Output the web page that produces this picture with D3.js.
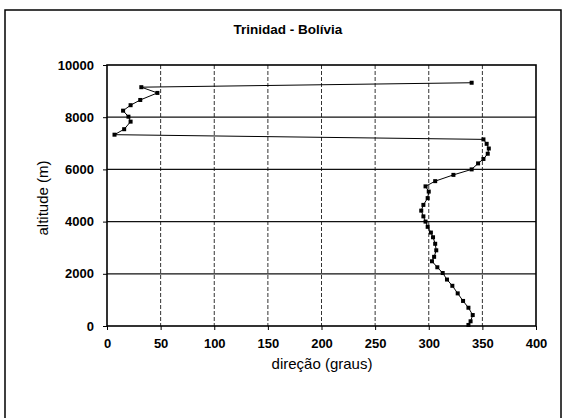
<!DOCTYPE html>
<html><head><meta charset="utf-8">
<script src="https://cdn.jsdelivr.net/npm/d3@7"></script>
<style>body{margin:0;background:#fff}svg{display:block}text{font-family:"Liberation Sans",Arial,sans-serif}</style>
</head><body>
<script>
const title = "Trinidad - Bolívia";
const xTitle = "direção (graus)";
const yTitle = "altitude (m)";
const xTicks = [0,50,100,150,200,250,300,350,400];
const yTicks = [0,2000,4000,6000,8000,10000];
const direction = [340,32,47,31,22,15,20,22,16,7,351,354,356,355,351,346,340,323,306,297,300,299,295,293,295,297,299,302,304,306,307,305,303,308,313,317,322,327,332,337,341,339,337];
const altitude = [9320,9150,8930,8660,8460,8250,8020,7830,7540,7330,7150,6980,6800,6600,6400,6230,6000,5790,5550,5350,5150,4900,4640,4420,4200,4000,3800,3580,3400,3150,2900,2650,2480,2250,2030,1780,1540,1250,960,700,420,180,40];

const W=566,H=418;
const svg=d3.select("body").append("svg").attr("width",W).attr("height",H);
svg.append("rect").attr("width",W).attr("height",H).attr("fill","#fff");
// outer chart frame
svg.append("rect").attr("x",5).attr("y",10).attr("width",556).attr("height",420)
  .attr("fill","none").attr("stroke","#000").attr("stroke-width",1.5);

const m={l:107,t:65,r:536,b:326};
const x=d3.scaleLinear().domain([0,400]).range([m.l,m.r]);
const y=d3.scaleLinear().domain([0,10000]).range([m.b,m.t]);

// gridlines
svg.append("g").selectAll("line").data(xTicks.slice(1,-1)).join("line")
  .attr("x1",d=>x(d)).attr("x2",d=>x(d)).attr("y1",m.t).attr("y2",m.b)
  .attr("stroke","#333").attr("stroke-width",1).attr("stroke-dasharray","4,2");
svg.append("g").selectAll("line").data(yTicks.slice(1,-1)).join("line")
  .attr("x1",m.l).attr("x2",m.r).attr("y1",d=>y(d)).attr("y2",d=>y(d))
  .attr("stroke","#111").attr("stroke-width",1.2);

// plot frame
svg.append("rect").attr("x",m.l).attr("y",m.t).attr("width",m.r-m.l).attr("height",m.b-m.t)
  .attr("fill","none").attr("stroke","#000").attr("stroke-width",1.6);

// axes
const xa=svg.append("g").attr("transform",`translate(0,${m.b})`)
  .call(d3.axisBottom(x).tickValues(xTicks).tickSize(4).tickPadding(9));
const ya=svg.append("g").attr("transform",`translate(${m.l},0)`)
  .call(d3.axisLeft(y).tickValues(yTicks).tickSize(4).tickPadding(9).tickFormat(d3.format("d")));
[xa,ya].forEach(a=>{
  a.select(".domain").remove();
  a.selectAll("line").attr("stroke","#000");
  a.selectAll("text").attr("fill","#000").style("font-size","13px").style("font-weight","bold")
   .style("font-family","'Liberation Sans',Arial,sans-serif");
});

// data
const pts=direction.map((d,i)=>[d,altitude[i]]);
svg.append("path").datum(pts)
  .attr("d",d3.line().x(d=>x(d[0])).y(d=>y(d[1])))
  .attr("fill","none").attr("stroke","#000").attr("stroke-width",1);
svg.append("g").selectAll("rect").data(pts).join("rect")
  .attr("x",d=>x(d[0])-2).attr("y",d=>y(d[1])-2).attr("width",4).attr("height",4).attr("fill","#000");

// titles
svg.append("text").attr("x",288).attr("y",34).attr("text-anchor","middle")
  .style("font-size","13.5px").style("font-weight","bold").text(title);
svg.append("text").attr("x",322).attr("y",369).attr("text-anchor","middle")
  .style("font-size","15px").text(xTitle);
svg.append("text").attr("transform","translate(48,198) rotate(-90)").attr("text-anchor","middle")
  .style("font-size","15px").text(yTitle);
</script>
</body></html>
